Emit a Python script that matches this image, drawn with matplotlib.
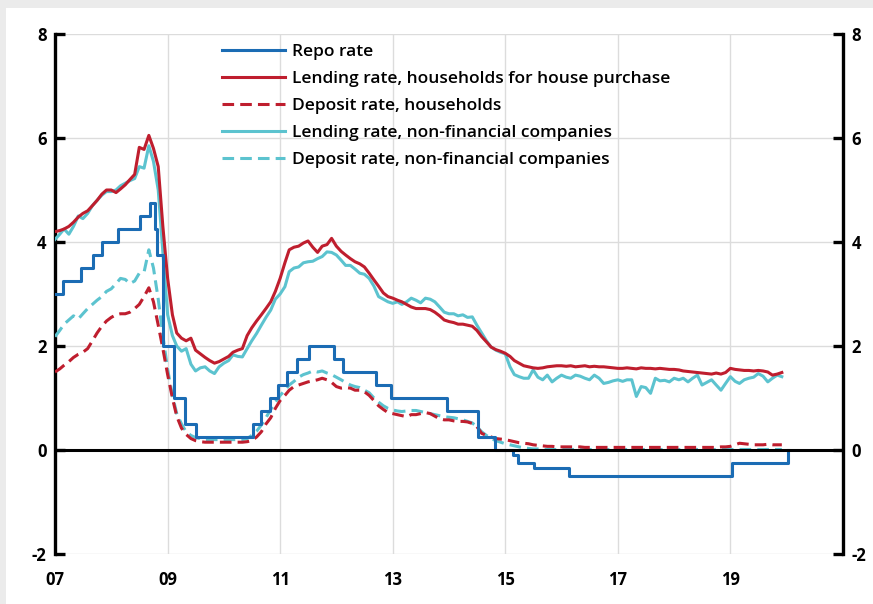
import matplotlib
matplotlib.use("Agg")
import matplotlib.pyplot as plt
import matplotlib.dates as mdates
import matplotlib.patches as mpatches
import pandas as pd
import numpy as np

# monthly observations Jan 2007 - Dec 2019
months = pd.date_range("2007-01-01", periods=156, freq="MS")

# lending rate, households for house purchase
lend_hh = [
    4.20, 4.22, 4.25, 4.30, 4.38, 4.48, 4.55, 4.60, 4.70, 4.80, 4.92, 5.00,  # 2007
    5.00, 4.95, 5.02, 5.10, 5.20, 5.30, 5.82, 5.78, 6.05, 5.80, 5.45, 4.30,  # 2008
    3.30, 2.60, 2.25, 2.15, 2.10, 2.15, 1.92, 1.85, 1.78, 1.72, 1.67, 1.70,  # 2009
    1.75, 1.80, 1.88, 1.92, 1.95, 2.20, 2.35, 2.48, 2.60, 2.72, 2.85, 3.05,  # 2010
    3.30, 3.60, 3.85, 3.90, 3.92, 3.98, 4.02, 3.90, 3.80, 3.92, 3.95, 4.07,  # 2011
    3.92, 3.82, 3.75, 3.68, 3.62, 3.58, 3.52, 3.40, 3.27, 3.15, 3.02, 2.95,  # 2012
    2.92, 2.88, 2.85, 2.80, 2.75, 2.72, 2.72, 2.72, 2.70, 2.65, 2.58, 2.50,  # 2013
    2.47, 2.45, 2.42, 2.42, 2.40, 2.38, 2.30, 2.18, 2.08, 1.98, 1.93, 1.90,  # 2014
    1.86, 1.80, 1.72, 1.67, 1.62, 1.60, 1.58, 1.57, 1.58, 1.60, 1.61, 1.62,  # 2015
    1.62, 1.61, 1.62, 1.60, 1.61, 1.62, 1.60, 1.61, 1.60, 1.60, 1.59, 1.58,  # 2016
    1.57, 1.57, 1.58, 1.57, 1.56, 1.58, 1.57, 1.57, 1.56, 1.57, 1.56, 1.55,  # 2017
    1.55, 1.54, 1.52, 1.51, 1.50, 1.49, 1.48, 1.47, 1.46, 1.48, 1.46, 1.49,  # 2018
    1.57, 1.55, 1.54, 1.53, 1.53, 1.52, 1.53, 1.52, 1.50, 1.44, 1.46, 1.49,  # 2019
]

# deposit rate, households
dep_hh = [
    1.50, 1.56, 1.63, 1.70, 1.78, 1.84, 1.88, 1.95, 2.10, 2.25, 2.38, 2.48,
    2.55, 2.60, 2.62, 2.62, 2.65, 2.72, 2.80, 2.95, 3.12, 2.85, 2.40, 1.95,
    1.45, 1.00, 0.65, 0.42, 0.30, 0.22, 0.18, 0.16, 0.15, 0.15, 0.15, 0.15,
    0.15, 0.15, 0.15, 0.15, 0.15, 0.16, 0.18, 0.25, 0.35, 0.50, 0.62, 0.80,
    0.95, 1.05, 1.15, 1.22, 1.25, 1.28, 1.31, 1.33, 1.35, 1.38, 1.35, 1.30,
    1.22, 1.19, 1.20, 1.19, 1.15, 1.15, 1.12, 1.05, 0.95, 0.85, 0.78, 0.72,
    0.70, 0.68, 0.66, 0.64, 0.68, 0.68, 0.70, 0.72, 0.70, 0.65, 0.60, 0.58,
    0.58, 0.56, 0.55, 0.55, 0.54, 0.51, 0.45, 0.32, 0.28, 0.25, 0.22, 0.21,
    0.20, 0.18, 0.16, 0.14, 0.13, 0.12, 0.10, 0.09, 0.08, 0.07, 0.07, 0.06,
    0.06, 0.06, 0.06, 0.06, 0.06, 0.05, 0.05, 0.05, 0.05, 0.05, 0.05, 0.05,
    0.05, 0.05, 0.05, 0.05, 0.05, 0.05, 0.05, 0.05, 0.05, 0.05, 0.05, 0.05,
    0.05, 0.05, 0.05, 0.05, 0.05, 0.05, 0.05, 0.05, 0.05, 0.05, 0.06, 0.06,
    0.07, 0.10, 0.13, 0.12, 0.11, 0.10, 0.10, 0.10, 0.11, 0.10, 0.10, 0.10,
]

# lending rate, non-financial companies
lend_nfc = [
    4.05, 4.15, 4.25, 4.15, 4.30, 4.50, 4.45, 4.55, 4.70, 4.80, 4.90, 4.97,
    4.97, 5.00, 5.08, 5.13, 5.18, 5.22, 5.45, 5.42, 5.85, 5.55, 5.00, 3.80,
    2.60, 2.20, 2.00, 1.90, 1.95, 1.65, 1.52, 1.58, 1.60, 1.52, 1.47, 1.60,
    1.67, 1.72, 1.83, 1.80, 1.79, 1.95, 2.10, 2.24, 2.40, 2.55, 2.69, 2.90,
    3.00, 3.14, 3.43, 3.50, 3.52, 3.60, 3.62, 3.63, 3.68, 3.72, 3.81, 3.80,
    3.75, 3.65, 3.55, 3.55, 3.48, 3.40, 3.38, 3.30, 3.15, 2.95, 2.90, 2.85,
    2.82, 2.85, 2.80, 2.85, 2.92, 2.88, 2.83, 2.92, 2.90, 2.85, 2.75, 2.65,
    2.62, 2.62, 2.58, 2.60, 2.55, 2.56, 2.40, 2.25, 2.10, 1.98, 1.92, 1.88,
    1.85, 1.60, 1.45, 1.41, 1.38, 1.38, 1.54, 1.40, 1.35, 1.44, 1.31, 1.38,
    1.44, 1.40, 1.38, 1.44, 1.42, 1.38, 1.35, 1.44, 1.38, 1.28, 1.30, 1.33,
    1.35, 1.32, 1.35, 1.35, 1.03, 1.22, 1.20, 1.09, 1.38, 1.33, 1.34, 1.31,
    1.38, 1.35, 1.38, 1.31, 1.38, 1.44, 1.25, 1.30, 1.35, 1.25, 1.15, 1.28,
    1.41, 1.32, 1.28, 1.35, 1.38, 1.40, 1.47, 1.42, 1.31, 1.38, 1.44, 1.41,
]

# deposit rate, non-financial companies
dep_nfc = [
    2.18, 2.30, 2.42, 2.50, 2.58, 2.52, 2.62, 2.72, 2.80, 2.88, 2.95, 3.05,
    3.10, 3.20, 3.30, 3.28, 3.20, 3.25, 3.40, 3.42, 3.85, 3.50, 2.90, 2.20,
    1.55, 1.05, 0.70, 0.50, 0.35, 0.28, 0.24, 0.22, 0.20, 0.20, 0.20, 0.20,
    0.20, 0.20, 0.20, 0.20, 0.20, 0.22, 0.28, 0.36, 0.48, 0.62, 0.78, 0.92,
    1.05, 1.15, 1.25, 1.32, 1.40, 1.45, 1.48, 1.52, 1.50, 1.52, 1.48, 1.45,
    1.40, 1.35, 1.30, 1.25, 1.22, 1.20, 1.15, 1.10, 1.00, 0.92, 0.85, 0.80,
    0.77, 0.75, 0.74, 0.75, 0.76, 0.76, 0.74, 0.72, 0.70, 0.68, 0.66, 0.64,
    0.63, 0.62, 0.60, 0.58, 0.55, 0.52, 0.45, 0.35, 0.28, 0.22, 0.18, 0.15,
    0.12, 0.10, 0.08, 0.06, 0.04, 0.03, 0.02, 0.02, 0.01, 0.01, 0.01, 0.01,
    0.01, 0.01, 0.01, 0.01, 0.01, 0.01, 0.01, 0.01, 0.01, 0.01, 0.01, 0.01,
    0.01, 0.01, 0.01, 0.01, 0.01, 0.01, 0.01, 0.01, 0.01, 0.01, 0.01, 0.01,
    0.01, 0.01, 0.01, 0.01, 0.01, 0.01, 0.01, 0.01, 0.01, 0.01, 0.01, 0.01,
    0.01, 0.01, 0.01, 0.01, 0.01, 0.01, 0.01, 0.01, 0.01, 0.01, 0.01, 0.01,
]

# repo rate decisions (effective date, level)
repo_dates = ["2007-01-01", "2007-02-21", "2007-06-20", "2007-09-05", "2007-10-31",
              "2008-02-13", "2008-07-03", "2008-09-10", "2008-10-08", "2008-10-23",
              "2008-12-03", "2009-02-11", "2009-04-21", "2009-07-01", "2010-07-07",
              "2010-09-01", "2010-10-27", "2010-12-15", "2011-02-16", "2011-04-20",
              "2011-07-06", "2011-12-14", "2012-02-15", "2012-09-12", "2012-12-19",
              "2013-12-18", "2014-07-09", "2014-10-29", "2015-02-18", "2015-03-25",
              "2015-07-08", "2016-02-17", "2019-01-09", "2020-01-08"]
repo_levels = [3.00, 3.25, 3.50, 3.75, 4.00, 4.25, 4.50, 4.75, 4.25, 3.75,
               2.00, 1.00, 0.50, 0.25, 0.50, 0.75, 1.00, 1.25, 1.50, 1.75,
               2.00, 1.75, 1.50, 1.25, 1.00, 0.75, 0.25, 0.00, -0.10, -0.25,
               -0.35, -0.50, -0.25, 0.00]

series_labels = ["Repo rate", "Lending rate, households for house purchase",
                 "Deposit rate, households", "Lending rate, non-financial companies",
                 "Deposit rate, non-financial companies"]
year_ticks = ["2007", "2009", "2011", "2013", "2015", "2017", "2019"]

blue = "#1b6cb4"
red = "#bf1e2e"
cyan = "#5cc3cf"

plt.rcParams["font.family"] = ["Open Sans", "DejaVu Sans"]
plt.rcParams["axes.unicode_minus"] = False

fig = plt.figure(figsize=(8.73, 6.04), dpi=100)
fig.patch.set_facecolor("#ebebeb")
fig.patches.append(mpatches.Rectangle((6 / 873, 0), 1, 1 - 8 / 604, transform=fig.transFigure,
                                      facecolor="white", edgecolor="none", zorder=-10))

ax = fig.add_axes([55 / 873, 1 - 554 / 604, (843 - 55) / 873, 520 / 604])
ax.set_facecolor("none")

repo_x = pd.to_datetime(repo_dates)
lw = 2.2
dash = (0, (3.8, 2.0))
ax.step(repo_x, repo_levels, where="post", color=blue, lw=lw, label=series_labels[0], zorder=5)
ax.plot(months, lend_hh, color=red, lw=lw, label=series_labels[1], zorder=4)
ax.plot(months, dep_hh, color=red, lw=lw, ls=dash, label=series_labels[2], zorder=4)
ax.plot(months, lend_nfc, color=cyan, lw=lw, label=series_labels[3], zorder=3)
ax.plot(months, dep_nfc, color=cyan, lw=lw, ls=dash, label=series_labels[4], zorder=3)

ax.axhline(0, color="black", lw=2.2, zorder=6)

ax.set_ylim(-2, 8)
ax.set_xlim(pd.Timestamp("2007-01-01"), pd.Timestamp("2021-01-01"))
ax.set_yticks([-2, 0, 2, 4, 6, 8])
ax.set_xticks(pd.to_datetime(year_ticks))
ax.xaxis.set_major_formatter(mdates.DateFormatter("%y"))
ax.grid(True, color="#dcdcdc", lw=1.0, zorder=0)

for s in ["top", "bottom"]:
    ax.spines[s].set_visible(False)
for s in ["left", "right"]:
    ax.spines[s].set_linewidth(2.4)
    ax.spines[s].set_color("black")

ax.tick_params(axis="y", direction="in", length=7, width=2.4, left=True, right=True,
               labelleft=True, labelright=True, labelsize=12, pad=6)
ax.tick_params(axis="x", length=0, labelsize=12, pad=12)
for t in ax.yaxis.get_major_ticks():
    t.label1.set_fontweight("bold")
    t.label2.set_fontweight("bold")
for t in ax.xaxis.get_major_ticks():
    t.label1.set_fontweight("bold")

leg = ax.legend(loc="upper left", bbox_to_anchor=(0.212, 0.981), frameon=False,
                borderaxespad=0, borderpad=0, handlelength=3.6, handletextpad=0.4,
                labelspacing=0.63, prop={"size": 12.5, "weight": "semibold"})

fig.savefig("out.png", dpi=100, facecolor=fig.get_facecolor())
